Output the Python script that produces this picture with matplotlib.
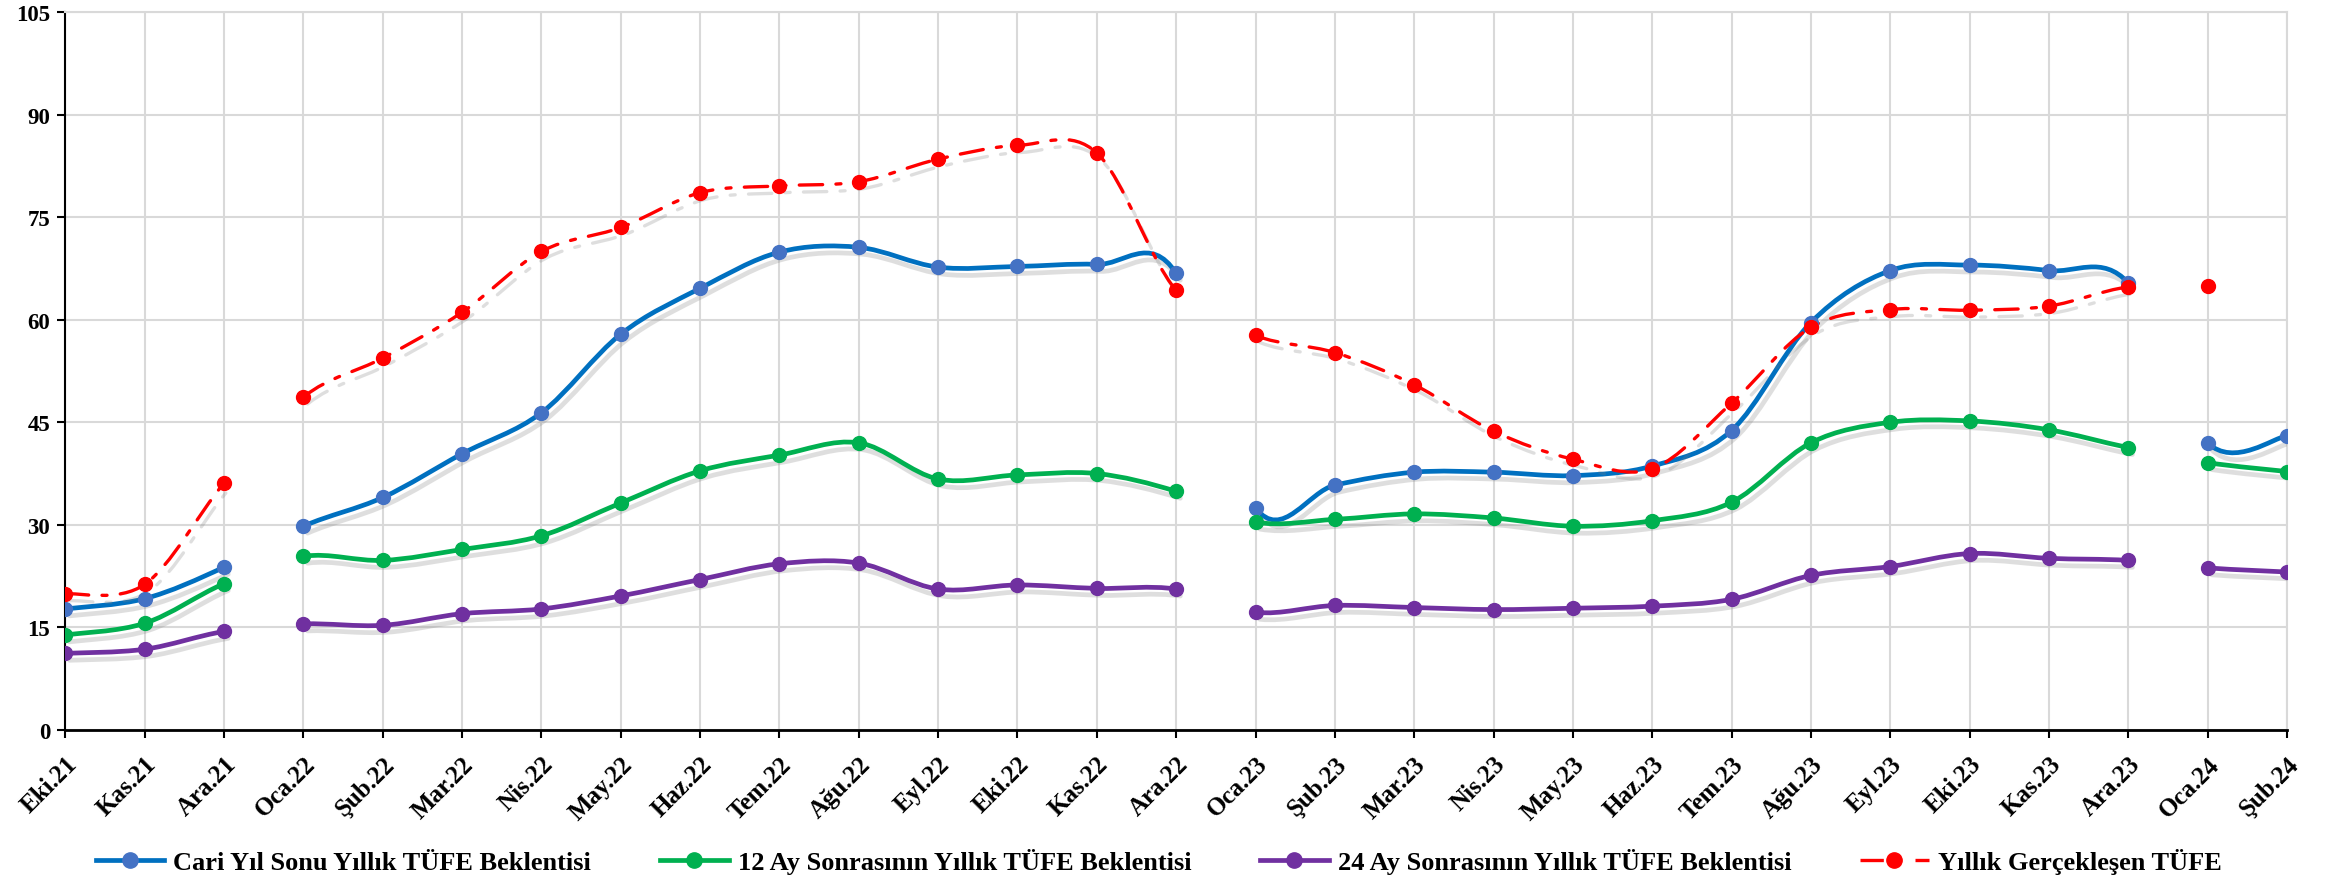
import numpy as np
import matplotlib
matplotlib.use('Agg')
import matplotlib.pyplot as plt
from matplotlib.path import Path
from matplotlib.patches import PathPatch
from matplotlib.lines import Line2D
import matplotlib.patheffects as pe

months = ['Eki.21', 'Kas.21', 'Ara.21',
          'Oca.22', 'Şub.22', 'Mar.22', 'Nis.22', 'May.22', 'Haz.22', 'Tem.22',
          'Ağu.22', 'Eyl.22', 'Eki.22', 'Kas.22', 'Ara.22',
          'Oca.23', 'Şub.23', 'Mar.23', 'Nis.23', 'May.23', 'Haz.23', 'Tem.23',
          'Ağu.23', 'Eyl.23', 'Eki.23', 'Kas.23', 'Ara.23',
          'Oca.24', 'Şub.24']

cari_yil = [17.7, 19.2, 23.8,
            29.8, 34.0, 40.4, 46.4, 57.9, 64.6, 69.9, 70.6, 67.7, 67.8, 68.1, 66.8,
            32.5, 35.8, 37.7, 37.7, 37.2, 38.6, 43.8, 59.6, 67.2, 68.0, 67.2, 65.4,
            42.0, 43.0]
ay12 = [13.9, 15.6, 21.4,
        25.4, 24.8, 26.4, 28.4, 33.2, 37.9, 40.2, 42.0, 36.7, 37.3, 37.5, 34.9,
        30.4, 30.8, 31.6, 31.0, 29.8, 30.6, 33.3, 42.0, 45.0, 45.2, 43.9, 41.3,
        39.1, 37.8]
ay24 = [11.2, 11.8, 14.4,
        15.5, 15.3, 17.0, 17.7, 19.6, 22.0, 24.3, 24.4, 20.6, 21.2, 20.7, 20.6,
        17.2, 18.2, 17.9, 17.6, 17.8, 18.1, 19.1, 22.6, 23.9, 25.8, 25.1, 24.8,
        23.7, 23.1]
gerceklesen = [19.9, 21.3, 36.1,
               48.7, 54.4, 61.1, 70.0, 73.5, 78.6, 79.6, 80.2, 83.5, 85.5, 84.4, 64.3,
               57.7, 55.2, 50.5, 43.7, 39.6, 38.2, 47.8, 58.9, 61.5, 61.4, 62.0, 64.8,
               64.9, np.nan]

# each calendar year is drawn as its own line
year_starts = [0, 3, 15, 27]

plt.rcParams['font.family'] = ['Liberation Serif', 'DejaVu Serif']
plt.rcParams['font.weight'] = 'bold'

fig = plt.figure(figsize=(23.36, 8.79), dpi=100)
ax = fig.add_axes([0.028, 0.1685, 0.951, 0.8165])


def smooth_path(xs, ys, a, b):
    # excel-like smoothed line between points a..b-1; tangents look at the
    # neighbouring points of the whole series, also across the year gaps
    n = len(xs)
    def pt(i):
        i = min(max(i, 0), n - 1)
        if np.isnan(ys[i]):
            i = i - 1
        return xs[i], ys[i]
    verts = [pt(a)]
    codes = [Path.MOVETO]
    for i in range(a, b - 1):
        pp, p0, p1, pn = pt(i - 1), pt(i), pt(i + 1), pt(i + 2)
        c1 = (p0[0] + (p1[0] - pp[0]) / 6, p0[1] + (p1[1] - pp[1]) / 6)
        c2 = (p1[0] - (pn[0] - p0[0]) / 6, p1[1] - (pn[1] - p0[1]) / 6)
        verts += [c1, c2, p1]
        codes += [Path.CURVE4] * 3
    return Path(verts, codes)


series = [
    (cari_yil, '#0070C0', '#4472C4', '-', 3.4, 'Cari Yıl Sonu Yıllık TÜFE Beklentisi'),
    (ay12, '#00B050', '#00B050', '-', 3.4, '12 Ay Sonrasının Yıllık TÜFE Beklentisi'),
    (ay24, '#7030A0', '#7030A0', '-', 3.4, '24 Ay Sonrasının Yıllık TÜFE Beklentisi'),
    (gerceklesen, '#FF0000', '#FF0000', (0, (7, 4, 1.5, 4)), 2.4, 'Yıllık Gerçekleşen TÜFE'),
]

x = np.arange(len(months))
bounds = year_starts + [len(months)]
handles = []
for vals, lc, mc, ls, lw, label in series:
    vals = np.array(vals, dtype=float)
    for a, b in zip(bounds[:-1], bounds[1:]):
        while b > a and np.isnan(vals[b - 1]):
            b -= 1
        if b - a > 1:
            patch = PathPatch(smooth_path(x, vals, a, b), facecolor='none', edgecolor=lc,
                              lw=lw, linestyle=ls, capstyle='round', zorder=3,
                              path_effects=[pe.SimpleLineShadow(offset=(3, -5), shadow_color='#7f7f7f', alpha=0.25),
                                            pe.Normal()])
            ax.add_patch(patch)
        ax.plot(x[a:b], vals[a:b], 'o', color=mc, markersize=10, zorder=4)
    handles.append(Line2D([], [], color=lc, lw=lw, linestyle=ls, marker='o',
                          markersize=11, markerfacecolor=mc, markeredgecolor=mc, label=label))

ax.set_xlim(0, len(months) - 1)
ax.set_ylim(0, 105)
ax.set_yticks(np.arange(0, 106, 15))
ax.set_xticks(x)
ax.set_xticklabels(months, rotation=45, ha='right', rotation_mode='anchor')
ax.tick_params(axis='y', labelsize=16.5, length=6, width=1.5, direction='out', pad=5)
ax.tick_params(axis='x', labelsize=18, length=6, width=1.5, direction='out', pad=10)
ax.grid(True, color='#D9D9D9', lw=1.5)
ax.set_axisbelow(True)
for s in ['top', 'right']:
    ax.spines[s].set_color('#D9D9D9')
    ax.spines[s].set_linewidth(1.5)
ax.spines['left'].set_linewidth(1.5)
ax.spines['bottom'].set_linewidth(2)

fig.legend(handles=handles, loc='center', ncol=4, frameon=False,
           bbox_to_anchor=(0.496, 0.019), fontsize=19, handlelength=2.6,
           columnspacing=2.6, handletextpad=0.35)

fig.savefig('out.png', dpi=100)
